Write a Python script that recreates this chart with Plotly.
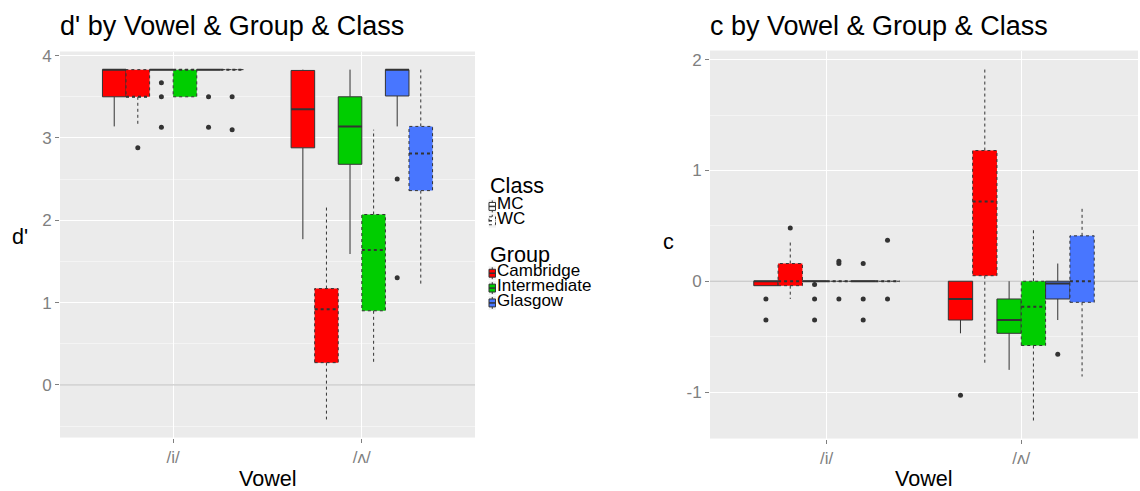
import plotly.graph_objects as go

W, H = 1140, 491

vowels = ["/i/", "/ʌ/"]
groups = ["Cambridge", "Intermediate", "Glasgow"]
classes = ["MC", "WC"]
group_colors = ["#FF0000", "#00CD00", "#4876FF"]

# box order within each vowel: Cam-MC, Cam-WC, Int-MC, Int-WC, Gla-MC, Gla-WC
d_lo  = [3.14, 3.14, 3.83, 3.50, 3.83, 3.83,   1.77, -0.42, 1.59, 0.27, 3.14, 1.23]
d_q1  = [3.50, 3.50, 3.83, 3.50, 3.83, 3.83,   2.88,  0.27, 2.68, 0.90, 3.51, 2.36]
d_med = [3.83, 3.50, 3.83, 3.83, 3.83, 3.83,   3.35,  0.92, 3.14, 1.64, 3.83, 2.81]
d_q3  = [3.83, 3.83, 3.83, 3.83, 3.83, 3.83,   3.82,  1.17, 3.50, 2.07, 3.83, 3.14]
d_hi  = [3.83, 3.83, 3.83, 3.83, 3.83, 3.83,   3.83,  2.17, 3.83, 3.10, 3.83, 3.83]
d_out = [[], [2.88], [3.67, 3.50, 3.13], [], [3.50, 3.13], [3.50, 3.10],
         [], [], [], [], [2.50, 1.30], []]

c_lo  = [-0.04, -0.16, 0.0, 0.0, 0.0, 0.0,   -0.47, -0.75, -0.80, -1.26, -0.35, -0.86]
c_q1  = [-0.04, -0.04, 0.0, 0.0, 0.0, 0.0,   -0.35,  0.05, -0.47, -0.58, -0.16, -0.19]
c_med = [ 0.00,  0.00, 0.0, 0.0, 0.0, 0.0,   -0.16,  0.72, -0.35, -0.23, -0.02,  0.00]
c_q3  = [ 0.00,  0.16, 0.0, 0.0, 0.0, 0.0,    0.00,  1.18, -0.16,  0.00,  0.00,  0.41]
c_hi  = [ 0.00,  0.35, 0.0, 0.0, 0.0, 0.0,    0.00,  1.92,  0.00,  0.47,  0.16,  0.66]
c_out = [[-0.16, -0.35], [0.48], [-0.03, -0.16, -0.35], [0.18, 0.16, -0.16],
         [0.16, -0.16, -0.35], [0.37, -0.16],
         [-1.03], [], [], [], [-0.66], []]

d_ticks = [0, 1, 2, 3, 4]
d_ticktext = ["0", "1", "2", "3", "4"]
c_ticks = [-1, 0, 1, 2]
c_ticktext = ["-1", "0", "1", "2"]
ref_value = 0

INK = "#333333"
FONT = "Liberation Sans, Arial, Helvetica, sans-serif"
XRANGE = [0.4, 2.6]


def px(x):
    return x / W


def py(y):
    return 1 - y / H


fig = go.Figure()


def add_panel(xa, ya, lo, q1, med, q3, hi, out):
    n = len(groups) * len(classes)
    bw = 0.75 / n
    # reference line at zero (geom_hline)
    fig.add_trace(go.Scatter(x=XRANGE, y=[ref_value, ref_value], mode="lines",
                             xaxis=xa, yaxis=ya, line=dict(color="#BDBDBD", width=1),
                             showlegend=False, hoverinfo="skip"))
    entries = []
    for vi in range(len(vowels)):
        for gi in range(len(groups)):
            for ci in range(len(classes)):
                k = gi * len(classes) + ci
                idx = vi * n + k
                cx = (vi + 1) + (k - (n - 1) / 2) * bw
                entries.append((idx, gi, ci, cx))
    # whiskers
    for ci, dash in enumerate(["solid", "dot"]):
        xs, ys = [], []
        for idx, gi, c, cx in entries:
            if c != ci:
                continue
            xs += [cx, cx, None, cx, cx, None]
            ys += [q3[idx], hi[idx], None, q1[idx], lo[idx], None]
        fig.add_trace(go.Scatter(x=xs, y=ys, mode="lines", xaxis=xa, yaxis=ya,
                                 line=dict(color=INK, width=1, dash=dash),
                                 showlegend=False, hoverinfo="skip"))
    # boxes
    for idx, gi, ci, cx in entries:
        x0, x1 = cx - bw / 2, cx + bw / 2
        fig.add_trace(go.Scatter(
            x=[x0, x1, x1, x0, x0], y=[q1[idx], q1[idx], q3[idx], q3[idx], q1[idx]],
            mode="lines", fill="toself", fillcolor=group_colors[gi],
            line=dict(color=INK, width=1, dash="solid" if ci == 0 else "dot"),
            xaxis=xa, yaxis=ya, showlegend=False,
            name=f"{groups[gi]} {classes[ci]}"))
    # medians
    for ci, dash in enumerate(["solid", "3px,3px"]):
        xs, ys = [], []
        for idx, gi, c, cx in entries:
            if c != ci:
                continue
            xs += [cx - bw / 2, cx + bw / 2, None]
            ys += [med[idx], med[idx], None]
        fig.add_trace(go.Scatter(x=xs, y=ys, mode="lines", xaxis=xa, yaxis=ya,
                                 line=dict(color=INK, width=2, dash=dash),
                                 showlegend=False, hoverinfo="skip"))
    # outliers
    xs, ys = [], []
    for idx, gi, ci, cx in entries:
        for v in out[idx]:
            xs.append(cx)
            ys.append(v)
    fig.add_trace(go.Scatter(x=xs, y=ys, mode="markers", xaxis=xa, yaxis=ya,
                             marker=dict(color=INK, size=5),
                             showlegend=False))


add_panel("x", "y", d_lo, d_q1, d_med, d_q3, d_hi, d_out)
add_panel("x2", "y2", c_lo, c_q1, c_med, c_q3, c_hi, c_out)

xcommon = dict(range=XRANGE, tickmode="array", tickvals=[1, 2], ticktext=vowels,
               showgrid=True, gridcolor="white", gridwidth=1, zeroline=False,
               ticks="outside", ticklen=4, tickcolor="#7F7F7F", tickwidth=1,
               tickfont=dict(family=FONT, size=17, color="#7F7F7F"), showline=False)
ycommon = dict(tickmode="array", showgrid=True, gridcolor="white", gridwidth=1,
               zeroline=False, ticks="outside", ticklen=4, tickcolor="#7F7F7F",
               tickwidth=1, tickfont=dict(family=FONT, size=17, color="#7F7F7F"),
               showline=False,
               minor=dict(tick0=0.5, dtick=1, showgrid=True, gridcolor="#F4F4F4",
                          gridwidth=1, ticks=""))

fig.update_layout(
    width=W, height=H, margin=dict(l=0, r=0, t=0, b=0),
    paper_bgcolor="white", plot_bgcolor="#EBEBEB", showlegend=False,
    font=dict(family=FONT, color="black"),
    xaxis=dict(domain=[px(60), px(475)], anchor="y", **xcommon),
    yaxis=dict(domain=[py(437), py(47)], anchor="x", range=[-0.64, 4.05],
               tickvals=d_ticks, ticktext=d_ticktext, **ycommon),
    xaxis2=dict(domain=[px(710), px(1138)], anchor="y2", **xcommon),
    yaxis2=dict(domain=[py(438), py(46)], anchor="x2", range=[-1.42, 2.083],
                tickvals=c_ticks, ticktext=c_ticktext, **ycommon),
)

ann = []


def text(x, y, s, size, xanchor="left", color="black"):
    ann.append(dict(x=px(x), y=py(y), xref="paper", yref="paper", text=s,
                    showarrow=False, xanchor=xanchor, yanchor="middle",
                    font=dict(family=FONT, size=size, color=color)))


text(58, 21, "d' by Vowel & Group & Class", 27)
text(708, 21, "c by Vowel & Group & Class", 27)
text(267.5, 478.5, "Vowel", 21.6, "center")
text(924, 478.5, "Vowel", 21.6, "center")
text(20, 234, "d'", 21.6, "center")
text(668, 239, "c", 21.6, "center")

# legend
text(488, 182.5, "Class", 21.6)
text(495, 201, "MC", 17)
text(495, 215.5, "WC", 17)
text(488, 252.5, "Group", 21.6)
text(495, 268.5, "Cambridge", 17)
text(495, 283.5, "Intermediate", 17)
text(495, 298.5, "Glasgow", 17)

fig.update_layout(annotations=ann)


def key(yc, fill, dash):
    x0, x1 = 489.0, 495.5
    fig.add_shape(type="rect", xref="paper", yref="paper",
                  x0=px(x0 - 0.5), x1=px(x1 + 0.5), y0=py(yc - 7), y1=py(yc + 7),
                  fillcolor="#F2F2F2", line=dict(width=0), layer="above")
    fig.add_shape(type="line", xref="paper", yref="paper",
                  x0=px((x0 + x1) / 2), x1=px((x0 + x1) / 2), y0=py(yc - 6), y1=py(yc + 6),
                  line=dict(color=INK, width=1, dash=dash), layer="above")
    fig.add_shape(type="rect", xref="paper", yref="paper",
                  x0=px(x0), x1=px(x1), y0=py(yc - 4), y1=py(yc + 4),
                  fillcolor=fill, line=dict(color=INK, width=1, dash=dash), layer="above")
    fig.add_shape(type="line", xref="paper", yref="paper",
                  x0=px(x0), x1=px(x1), y0=py(yc), y1=py(yc),
                  line=dict(color=INK, width=1.5, dash=dash), layer="above")


key(203.5, "white", "solid")
key(218, "white", "dot")
for yc, col in zip([271, 286, 301], group_colors):
    key(yc, col, "solid")

fig.write_html("out.html", config={"displayModeBar": False},
               post_script="document.body.style.margin='0';document.body.style.padding='0';")
